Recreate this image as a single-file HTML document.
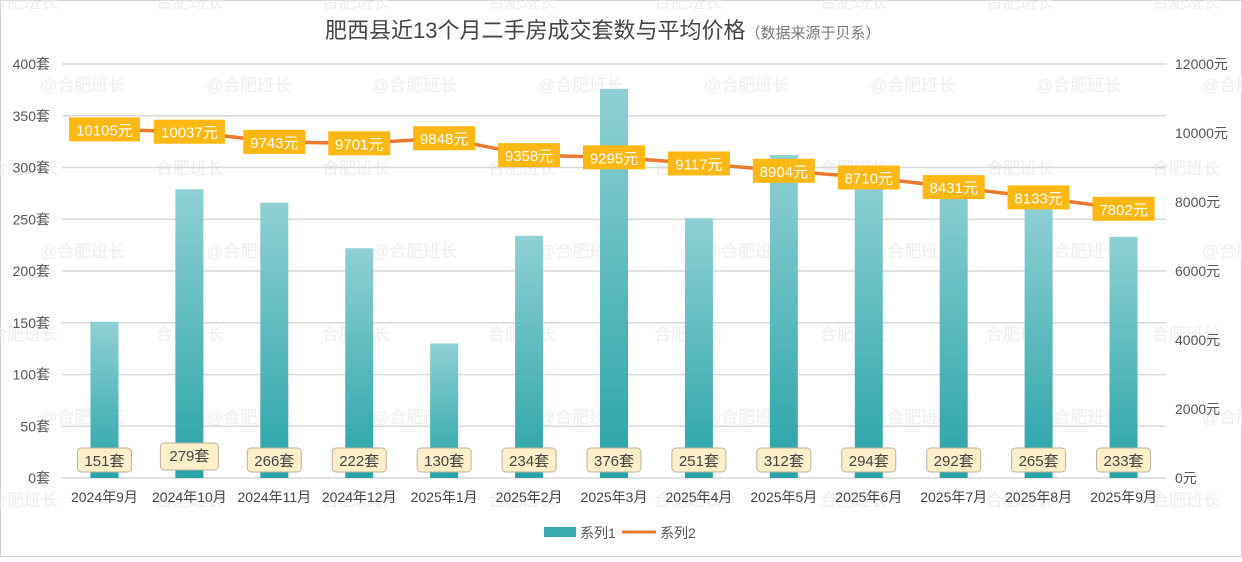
<!DOCTYPE html>
<html><head><meta charset="utf-8"><style>
body{margin:0;background:#fff;}
svg text{font-family:"Liberation Sans","Noto Sans CJK SC",sans-serif;}
</style></head><body>
<svg id="c" width="1242" height="557" xmlns="http://www.w3.org/2000/svg">
<defs>
<linearGradient id="bg" x1="0" y1="0" x2="0" y2="1">
<stop offset="0" stop-color="#8fd0d4"/><stop offset="1" stop-color="#27a3a7"/>
</linearGradient>
</defs>
<rect x="0.5" y="0.5" width="1241" height="556" fill="#fff" stroke="#d0d0d0"/>
<g id="wm"></g>
<g id="grid"></g>
<g id="bars"></g>
<g id="line"></g>
<text x="325" y="38" font-size="22" fill="#444">肥西县近13个月二手房成交套数与平均价格<tspan font-size="15" fill="#777">（数据来源于贝系）</tspan></text>
<g>
<rect x="544" y="527" width="32" height="10" fill="#3aabaf"/>
<text x="580" y="538" font-size="14" fill="#555">系列1</text>
<line x1="622" y1="532" x2="656" y2="532" stroke="#e97a30" stroke-width="3"/>
<text x="660" y="538" font-size="14" fill="#555">系列2</text>
</g>
</svg>
<script>
const categories=["2024年9月","2024年10月","2024年11月","2024年12月","2025年1月","2025年2月","2025年3月","2025年4月","2025年5月","2025年6月","2025年7月","2025年8月","2025年9月"];
const counts=[151,279,266,222,130,234,376,251,312,294,292,265,233];
const prices=[10105,10037,9743,9701,9848,9358,9295,9117,8904,8710,8431,8133,7802];
const leftTicks=[0,50,100,150,200,250,300,350,400];
const rightTicks=[0,2000,4000,6000,8000,10000,12000];
const NS="http://www.w3.org/2000/svg";
const X0=62,X1=1166,Y0=478,Y1=64;
const step=(X1-X0)/categories.length;
const xc=i=>X0+step*(i+0.5);
const yL=v=>Y0-(v/400)*(Y0-Y1);
const yR=v=>Y0-(v/12000)*(Y0-Y1);
function mk(tag,attrs,parent,txt){const e=document.createElementNS(NS,tag);for(const k in attrs)e.setAttribute(k,attrs[k]);if(txt!==undefined)e.textContent=txt;parent.appendChild(e);return e;}
const wm=document.getElementById('wm');
for(let r=0;r<7;r++){for(let c=0;c<8;c++){
 const t=mk('text',{x:(r%2?40:-10)+c*166,y:8+r*83,'font-size':17,fill:'#ededed'},wm,(r%2?'@合肥班长':'合肥班长'));
 
 
}}
const grid=document.getElementById('grid');
leftTicks.forEach(v=>{
 const l=mk('line',{x1:X0,x2:X1,y1:yL(v),y2:yL(v),stroke:'#d9d9d9','stroke-width':1.5},grid);
 
 
 const t=mk('text',{x:50,y:yL(v)+5,'text-anchor':'end','font-size':14,fill:'#555'},grid,v+'套');
 
 
});
rightTicks.forEach(v=>{
 const t=mk('text',{x:1175,y:yR(v)+5,'font-size':14,fill:'#555'},grid,v+'元');
 
 
});
categories.forEach((c,i)=>{
 const t=mk('text',{x:xc(i),y:502,'text-anchor':'middle','font-size':14,fill:'#444'},grid,c);
 
 
});
const bars=document.getElementById('bars');
counts.forEach((v,i)=>{
 const b=mk('rect',{x:xc(i)-14,y:yL(v),width:28,height:Y0-yL(v),fill:'url(#bg)'},bars);
 
 
 const w=i===1?58:String(v).length*9+27;
 const by=i===1?443:448;
 const r=mk('rect',{x:xc(i)-w/2,y:by,width:w,height:i===1?27:24,rx:4,fill:'#fdefc9',stroke:'#b9b2a0','stroke-width':1},bars);
 
 
 const t=mk('text',{x:xc(i),y:by+18,'text-anchor':'middle','font-size':15,fill:'#444'},bars,v+'套');
 
 
});
const lg=document.getElementById('line');
const pts=prices.map((v,i)=>xc(i)+','+yR(v)).join(' ');
const pl=mk('polyline',{points:pts,fill:'none',stroke:'#e97a30','stroke-width':3.5,'stroke-linejoin':'round'},lg);


prices.forEach((v,i)=>{
 const w=String(v).length*9+26;
 const r=mk('rect',{x:xc(i)-w/2,y:yR(v)-12,width:w,height:24,fill:'#fdb813'},lg);
 
 
 const t=mk('text',{x:xc(i),y:yR(v)+6,'text-anchor':'middle','font-size':15,fill:'#fff'},lg,v+'元');
 
 
});
</script>
</body></html>
